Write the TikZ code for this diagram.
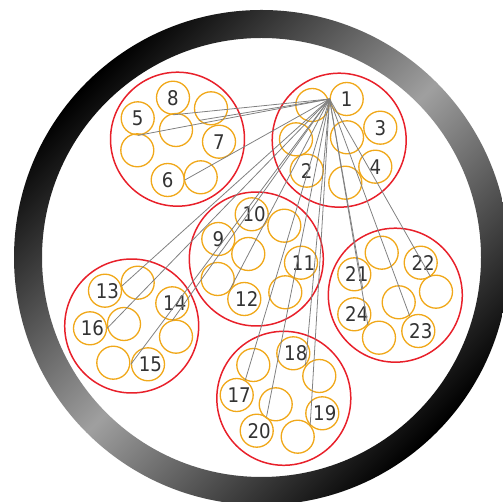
\documentclass[tikz,border=0pt]{standalone}
\usepackage{fontspec}
\setmainfont[FakeStretch=0.9]{DejaVu Sans}
\usepackage{tikz}

\definecolor{bundlered}{HTML}{E8202A}
\definecolor{cableorange}{HTML}{F0A81A}
\definecolor{wiregray}{HTML}{808080}
\definecolor{labelgray}{HTML}{333333}

% two-digit labels sit a little right of and below the centre
\newcommand{\twolbl}[1]{\raisebox{-0.04cm}{\kern0.1cm#1}}

\begin{document}
\begin{tikzpicture}[x=0.02cm,y=-0.02cm,
  every node/.style={font=\fontsize{11.5}{13}\selectfont,text=labelgray},
  bundle/.style={draw=bundlered,line width=0.85pt,circle,minimum size=2.68cm,inner sep=0pt},
  cable/.style={draw=cableorange,line width=0.75pt,circle,minimum size=0.66cm,inner sep=0pt},
  wire/.style={draw=wiregray,line width=0.45pt}]
\clip (0,0) rectangle (503,502);
% sheath
\shade[even odd rule,top color=black,bottom color=black,middle color=gray!75,shading angle=45]
  (261.5,257.5) circle (247.5) circle (219.5);
% bundles
\node[bundle] (bA) at (177.5,139.2) {};
\node[bundle] (bB) at (339.2,140.2) {};
\node[bundle] (bC) at (256.3,259) {};
\node[bundle] (bD) at (131.7,326) {};
\node[bundle] (bE) at (395.3,295.2) {};
\node[bundle] (bF) at (283.8,398.3) {};
% bundle B
\node[cable] (c1) at (346.7,99) {1};
\node[cable] (xb1) at (312.3,105) {};
\node[cable] (c3) at (380.3,127.7) {3};
\node[cable] (xb2) at (347,137.3) {};
\node[cable] (xb3) at (296,139.3) {};
\node[cable] (c4) at (375.3,166.7) {4};
\node[cable] (c2) at (306.7,170.7) {2};
\node[cable] (xb4) at (345.3,182.7) {};
% bundle A
\node[cable] (c8) at (173,97.7) {8};
\node[cable] (xa1) at (211,108.3) {};
\node[cable] (c5) at (137.7,118.3) {5};
\node[cable] (xa2) at (176,130) {};
\node[cable] (c7) at (219,141.7) {7};
\node[cable] (xa3) at (137.3,150.3) {};
\node[cable] (c6) at (167.7,180) {6};
\node[cable] (xa4) at (200.7,177.3) {};
% bundle C
\node[cable] (c10) at (251.7,214.3) {\twolbl{10}};
\node[cable] (xc1) at (284.3,225.7) {};
\node[cable] (c9) at (218.3,239) {9};
\node[cable] (xc2) at (248.3,254) {};
\node[cable] (c11) at (301,262.7) {\twolbl{11}};
\node[cable] (xc3) at (217.7,279) {};
\node[cable] (c12) at (244.3,299) {\twolbl{12}};
\node[cable] (xc4) at (285.3,292.3) {};
% bundle D
\node[cable] (c13) at (105,290.7) {\twolbl{13}};
\node[cable] (xd1) at (137.7,282.7) {};
\node[cable] (c14) at (172.3,303.3) {\twolbl{14}};
\node[cable] (c16) at (90,328.3) {\twolbl{16}};
\node[cable] (xd2) at (124,324) {};
\node[cable] (xd3) at (176,336.7) {};
\node[cable] (xd4) at (113.3,362.7) {};
\node[cable] (c15) at (148,364.3) {\twolbl{15}};
% bundle E
\node[cable] (xe1) at (381.7,252.7) {};
\node[cable] (c22) at (420.7,262.7) {\twolbl{22}};
\node[cable] (c21) at (354.3,274.3) {\twolbl{21}};
\node[cable] (xe2) at (436,291.7) {};
\node[cable] (xe3) at (398.7,302.3) {};
\node[cable] (c24) at (354.3,314.3) {\twolbl{24}};
\node[cable] (c23) at (418.3,331) {\twolbl{23}};
\node[cable] (xe4) at (379,337.7) {};
% bundle F
\node[cable] (c18) at (293.3,353.3) {\twolbl{18}};
\node[cable] (xf1) at (253.3,365) {};
\node[cable] (xf2) at (319.3,376) {};
\node[cable] (c17) at (236.7,395) {\twolbl{17}};
\node[cable] (xf3) at (275.7,404.3) {};
\node[cable] (c19) at (322.3,413.3) {\twolbl{19}};
\node[cable] (c20) at (256.7,430.7) {\twolbl{20}};
\node[cable] (xf4) at (297.7,436.7) {};
% wires
\draw[wire] (c1.west) -- (c8.south);
\draw[wire] (c1.west) -- (c5.south);
\draw[wire] (c1.west) -- (xa1.south west);
\draw[wire] (c1.west) -- (c6.east);
\draw[wire] (c1.west) -- (c13.15);
\draw[wire] (c1.west) -- (c16.east);
\draw[wire] (c1.west) -- (c15.west);
\draw[wire] (c1.west) -- (c14.south);
\draw[wire] (c1.west) -- (c12.150);
\draw[wire] (c1.west) -- (c17.60);
\draw[wire] (c1.west) -- (c20.55);
\draw[wire] (c1.west) -- (c18.-45);
\draw[wire] (c1.west) -- (c19.225);
\draw[wire] (c1.west) -- (c21.-60);
\draw[wire] (c1.west) -- (c24.-38);
\draw[wire] (c1.west) -- (c23.120);
\draw[wire] (c1.west) -- (c22.-55);
\end{tikzpicture}
\end{document}
